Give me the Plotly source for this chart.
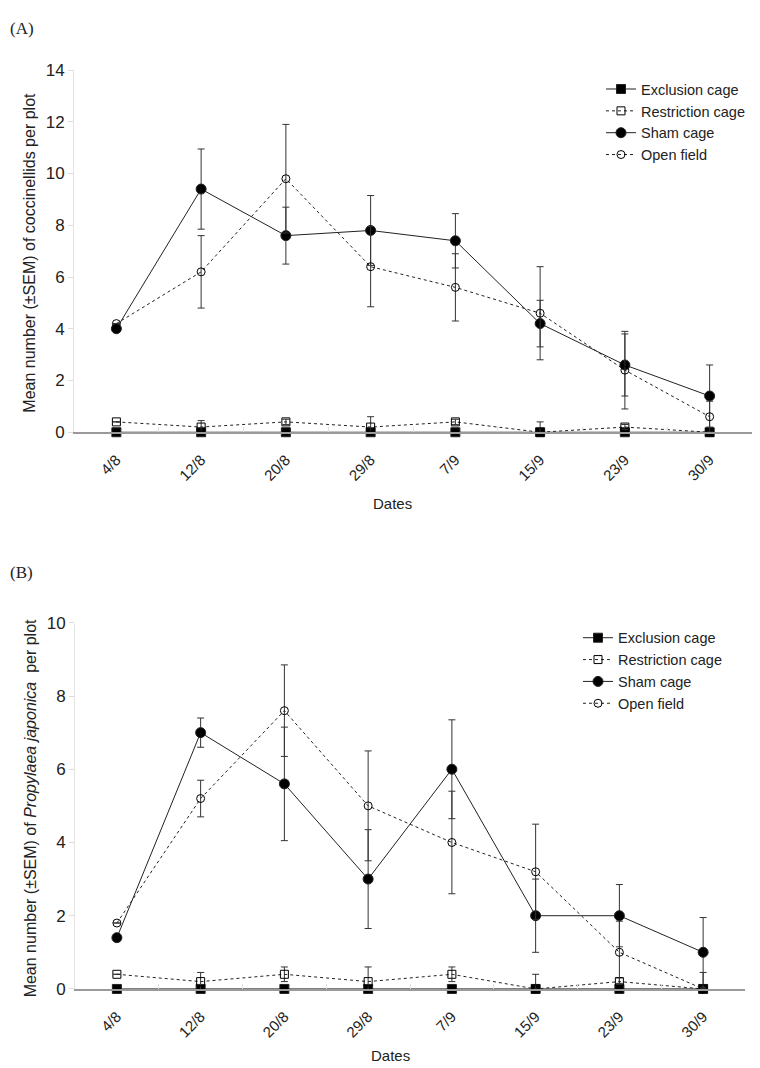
import plotly.graph_objects as go

dates = ["4/8", "12/8", "20/8", "29/8", "7/9", "15/9", "23/9", "30/9"]
series_names = ["Exclusion cage", "Restriction cage", "Sham cage", "Open field"]

# Panel A: coccinellids
a_excl = [0, 0, 0, 0, 0, 0, 0, 0]
a_excl_err = [0, 0, 0, 0, 0, 0, 0, 0]
a_restr = [0.4, 0.2, 0.4, 0.2, 0.4, 0.0, 0.2, 0.0]
a_restr_err = [0, 0.25, 0.1, 0.4, 0.1, 0.4, 0.1, 0]
a_sham = [4.0, 9.4, 7.6, 7.8, 7.4, 4.2, 2.6, 1.4]
a_sham_err = [0, 1.55, 1.1, 1.35, 1.05, 0.9, 1.2, 1.2]
a_open = [4.2, 6.2, 9.8, 6.4, 5.6, 4.6, 2.4, 0.6]
a_open_err = [0, 1.4, 2.1, 1.55, 1.3, 1.8, 1.5, 0.6]

# Panel B: Propylaea japonica
b_excl = [0, 0, 0, 0, 0, 0, 0, 0]
b_excl_err = [0, 0, 0, 0, 0, 0, 0, 0]
b_restr = [0.4, 0.2, 0.4, 0.2, 0.4, 0.0, 0.2, 0.0]
b_restr_err = [0, 0.25, 0.2, 0.4, 0.2, 0.4, 0.1, 0]
b_sham = [1.4, 7.0, 5.6, 3.0, 6.0, 2.0, 2.0, 1.0]
b_sham_err = [0, 0.4, 1.55, 1.35, 1.35, 1.0, 0.85, 0.95]
b_open = [1.8, 5.2, 7.6, 5.0, 4.0, 3.2, 1.0, 0.0]
b_open_err = [0, 0.5, 1.25, 1.5, 1.4, 1.3, 0.85, 0.45]

FONT = "Arial, Liberation Sans, sans-serif"
SERIF = "Liberation Serif, Times New Roman, serif"
OFFX = 8
OFFY, SY = 15.8, 0.9845  # observed page offset / vertical scale of the capture
W, H = 744, 1068


def fx(px):
    return min(1.0, max(0.0, (px - OFFX) / W))


def fy(py):
    return min(1.0, max(0.0, 1 - ((py - OFFY) / SY) / H))


styles = [
    dict(dash="solid", symbol="square", size=9),
    dict(dash="dot", symbol="square-open", size=8),
    dict(dash="solid", symbol="circle", size=10),
    dict(dash="dot", symbol="circle-open", size=8),
]

fig = go.Figure()


def add_panel(vals, errs, xa, ya, legend):
    for name, v, e, st in zip(series_names, vals, errs, styles):
        fig.add_trace(go.Scatter(
            x=dates, y=v, name=name, mode="lines+markers",
            xaxis=xa, yaxis=ya, legend=legend, cliponaxis=False,
            line=dict(color="#222222", width=1, dash=st["dash"]),
            marker=dict(symbol=st["symbol"], size=st["size"], color="black",
                        line=dict(color="#222222", width=1)),
            error_y=dict(type="data", array=e, visible=True, color="#333333",
                         thickness=1, width=3.5),
        ))


add_panel([a_excl, a_restr, a_sham, a_open], [a_excl_err, a_restr_err, a_sham_err, a_open_err], "x", "y", "legend")
add_panel([b_excl, b_restr, b_sham, b_open], [b_excl_err, b_restr_err, b_sham_err, b_open_err], "x2", "y2", "legend2")


def xaxis_cfg(domain):
    return dict(domain=domain, type="category", range=[-0.5, 7.5],
                showline=True, linecolor="#9a9a9a", linewidth=2,
                ticks="inside", tickson="boundaries", ticklen=5, tickcolor="#e0e0e0",
                tickangle=-45, ticklabelstandoff=11,
                tickfont=dict(family=FONT, size=15, color="#222"),
                showgrid=False, zeroline=False, fixedrange=True)


def yaxis_cfg(domain, rng, dtick):
    return dict(domain=domain, range=rng, dtick=dtick, tick0=0,
                showline=True, linecolor="#e3e3e3", linewidth=1,
                ticks="outside", ticklen=5, tickcolor="#dddddd",
                tickfont=dict(family=FONT, size=17, color="#222"),
                showgrid=False, zeroline=False, fixedrange=True)


fig.update_layout(
    width=W, height=H,
    margin=dict(l=0, r=0, t=0, b=0),
    paper_bgcolor="white", plot_bgcolor="white",
    xaxis=xaxis_cfg([fx(74), fx(756)]),
    yaxis=dict(yaxis_cfg([fy(432), fy(69)], [0, 14], 2), anchor="x"),
    xaxis2=dict(xaxis_cfg([fx(75), fx(745)]), anchor="y2"),
    yaxis2=dict(yaxis_cfg([fy(990), fy(623)], [0, 10], 2), anchor="x2"),
    legend=dict(x=fx(601), y=fy(72), xanchor="left", yanchor="top",
                font=dict(family=FONT, size=14.5, color="#222"),
                bgcolor="rgba(0,0,0,0)", itemwidth=30, tracegroupgap=0),
    legend2=dict(x=fx(578), y=fy(622), xanchor="left", yanchor="top",
                 font=dict(family=FONT, size=14.5, color="#222"),
                 bgcolor="rgba(0,0,0,0)", itemwidth=30, tracegroupgap=0),
    showlegend=True,
)

ann = [
    dict(text="(A)", x=fx(3), y=fy(16), xanchor="left", yanchor="top",
         font=dict(family=SERIF, size=17, color="#222")),
    dict(text="(B)", x=fx(3), y=fy(573), xanchor="left", yanchor="middle",
         font=dict(family=SERIF, size=17, color="#222")),
    dict(text="Mean number (±SEM) of coccinellids per plot", x=fx(30), y=fy(252),
         textangle=-90, xanchor="center", yanchor="middle",
         font=dict(family=FONT, size=16, color="#222")),
    dict(text="Mean number (±SEM) of <i>Propylaea japonica</i>  per plot", x=fx(30), y=fy(809),
         textangle=-90, xanchor="center", yanchor="middle",
         font=dict(family=FONT, size=16, color="#222")),
    dict(text="Dates", x=fx(392), y=fy(503), xanchor="center", yanchor="middle",
         font=dict(family=FONT, size=15, color="#222")),
    dict(text="Dates", x=fx(390), y=fy(1057), xanchor="center", yanchor="middle",
         font=dict(family=FONT, size=15, color="#222")),
]
for a in ann:
    a.update(xref="paper", yref="paper", showarrow=False)
fig.update_layout(annotations=ann)

fig.write_html("out.html")
